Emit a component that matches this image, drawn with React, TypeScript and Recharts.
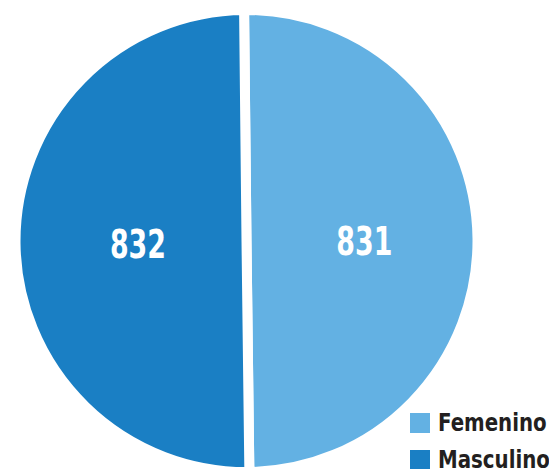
import {PieChart, Pie, Cell, Legend} from 'recharts'

const categories = ['Femenino', 'Masculino']
const values = [831, 832]
const colors = ['#63B1E3', '#1A7FC4']

const data = categories.map((name, i) => ({name, value: values[i]}))

const font = '"DejaVu Sans Condensed", "Liberation Sans Narrow", sans-serif'

const RADIAN = Math.PI / 180

const renderLabel = (props: any) => {
    const {cx, cy, midAngle, outerRadius, index, value} = props
    const r = outerRadius * (index === 0 ? 0.51 : 0.47)
    const x = cx + r * Math.cos(-midAngle * RADIAN)
    const y = cy + r * Math.sin(-midAngle * RADIAN)
    return (
        <text x={x} y={y + 2} fill='#fff' textAnchor='middle' dominantBaseline='central'
              textLength={56} lengthAdjust='spacingAndGlyphs'
              style={{fontFamily: font, fontWeight: 700, fontSize: 39}}>
            {value}
        </text>
    )
}

const renderLegend = () => (
    <div style={{fontFamily: font, fontWeight: 700, fontSize: 25, color: '#231F20'}}>
        {categories.map((c, i) => (
            <div key={c} style={{display: 'flex', alignItems: 'center', height: 37}}>
                <span style={{width: 20, height: 20, flexShrink: 0, background: colors[i], marginRight: 8}}/>
                <span style={{display: 'inline-block', transform: 'scaleX(0.88)', transformOrigin: 'left center', whiteSpace: 'nowrap'}}>{c}</span>
            </div>
        ))}
    </div>
)

export default function App() {
    return (
        <div style={{position: 'absolute', left: 0, top: 0, background: '#fff'}}>
            <PieChart width={549} height={469}>
                <Pie data={data} dataKey='value' cx={241.5} cy={236} outerRadius={231}
                     startAngle={90.6} endAngle={-269.4} stroke='#fff' strokeWidth={10}
                     label={renderLabel} labelLine={false} isAnimationActive={false}>
                    {data.map((d, i) => <Cell key={d.name} fill={colors[i]}/>)}
                </Pie>
                <Legend content={renderLegend} wrapperStyle={{position: 'absolute', left: 410, top: 404, width: 140}}/>
            </PieChart>
        </div>
    )
}
